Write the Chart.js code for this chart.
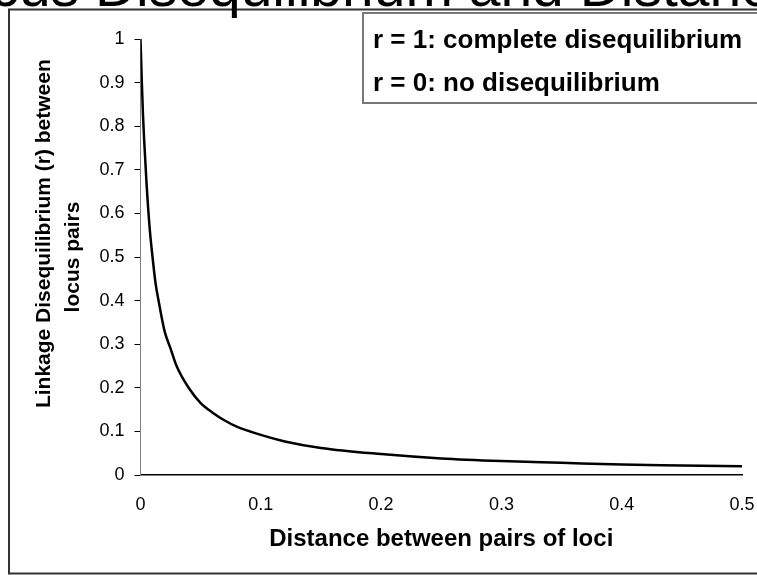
<!DOCTYPE html>
<html>
<head>
<meta charset="utf-8">
<title>Disequilibrium and Distance</title>
<script src="https://cdn.jsdelivr.net/npm/chart.js@4.4.1/dist/chart.umd.min.js"></script>
<style>
    html, body { margin: 0; padding: 0; background: #fff; }
    #wrap { width: 757px; height: 575px; }
</style>
</head>
<body>
<div id="wrap"><canvas id="ld-chart"></canvas></div>
<script>
// values
const distance = [0, 0.001, 0.002, 0.003, 0.005, 0.0075, 0.01, 0.0125, 0.015, 0.02, 0.025, 0.03, 0.04, 0.05,
    0.06, 0.07, 0.08, 0.1, 0.12, 0.15, 0.2, 0.25, 0.3, 0.35, 0.4, 0.45, 0.5];
const rValues = [1, 0.91, 0.83, 0.77, 0.67, 0.57, 0.5, 0.44, 0.4, 0.33, 0.29, 0.25, 0.2, 0.165,
    0.143, 0.125, 0.111, 0.092, 0.077, 0.062, 0.048, 0.038, 0.032, 0.028, 0.024, 0.022, 0.02];
const xTickLabels = ['0', '0.1', '0.2', '0.3', '0.4', '0.5'];
const yTickLabels = ['0', '0.1', '0.2', '0.3', '0.4', '0.5', '0.6', '0.7', '0.8', '0.9', '1'];
const chartTitle = 'Locus Disequilibrium and Distance';
const xTitle = 'Distance between pairs of loci';
const yTitle = ['        Linkage Disequilibrium (r) between', 'locus pairs'];
const noteLines = ['r = 1: complete disequilibrium', 'r = 0: no disequilibrium'];

const FONT = '"Liberation Sans", Arial, sans-serif';

// frame, cut-off title and the text box
const extras = {
    id: 'extras',
    afterDraw(chart) {
        const ctx = chart.ctx;
        ctx.save();
        ctx.strokeStyle = '#333';
        ctx.lineWidth = 2;
        ctx.strokeRect(9, 9.5, 800, 564);

        ctx.fillStyle = '#000';
        ctx.font = '57px ' + FONT;
        ctx.textAlign = 'left';
        ctx.textBaseline = 'alphabetic';
        ctx.fillText(chartTitle, -73, 6);

        ctx.fillStyle = '#fff';
        ctx.fillRect(363, 13, 450, 90);
        ctx.strokeStyle = '#777';
        ctx.lineWidth = 2;
        ctx.strokeRect(363, 13, 450, 90);

        ctx.fillStyle = '#000';
        ctx.font = 'bold 26px ' + FONT;
        ctx.fillText(noteLines[0], 373, 48);
        ctx.fillText(noteLines[1], 373, 91);
        ctx.restore();
    }
};

new Chart(document.getElementById('ld-chart'), {
    type: 'scatter',
    data: {
        datasets: [{
            data: distance.map((d, i) => ({ x: d, y: rValues[i] })),
            showLine: true,
            borderColor: '#000',
            borderWidth: 2.5,
            pointRadius: 0,
            cubicInterpolationMode: 'monotone'
        }]
    },
    options: {
        responsive: true,
        maintainAspectRatio: false,
        animation: false,
        layout: { padding: { left: 10, top: 39, right: 15, bottom: 10 } },
        plugins: {
            legend: { display: false },
            tooltip: { enabled: false }
        },
        scales: {
            x: {
                type: 'linear',
                min: 0,
                max: 0.5,
                afterFit: scale => {
                    scale.height = 90;
                    scale.paddingLeft = 0;
                    scale.paddingRight = 0;
                },
                grid: { display: false, drawTicks: false, tickLength: 0 },
                border: { display: true, color: '#000', width: 1.5 },
                ticks: {
                    stepSize: 0.1,
                    padding: 19,
                    color: '#000',
                    maxRotation: 0,
                    font: { family: FONT, size: 18 },
                    callback: (v, i) => xTickLabels[i]
                },
                title: {
                    display: true,
                    text: xTitle,
                    color: '#000',
                    font: { family: FONT, size: 24, weight: 'bold', lineHeight: 1.2 },
                    padding: { top: 0, bottom: 11 }
                }
            },
            y: {
                min: 0,
                max: 1,
                afterFit: scale => { scale.width = 130.5; },
                grid: { display: true, drawOnChartArea: false, drawTicks: true, tickLength: 6, color: '#000' },
                border: { display: true, color: '#808080', width: 1 },
                ticks: {
                    stepSize: 0.1,
                    padding: 10,
                    color: '#000',
                    font: { family: FONT, size: 18 },
                    callback: (v, i) => yTickLabels[i]
                },
                title: {
                    display: true,
                    text: yTitle,
                    color: '#000',
                    font: { family: FONT, size: 21, weight: 'bold', lineHeight: 1.38 },
                    padding: { top: 20, bottom: 0 }
                }
            }
        }
    },
    plugins: [extras]
});
</script>
</body>
</html>
